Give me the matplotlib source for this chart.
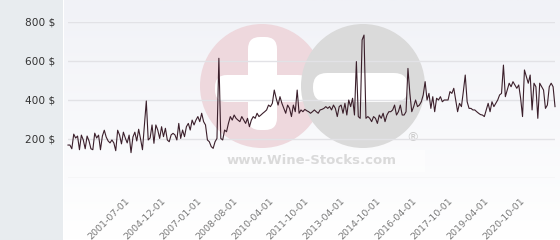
import numpy as np
import matplotlib.pyplot as plt
from matplotlib.colors import LinearSegmentedColormap
from matplotlib.patches import Circle, FancyBboxPatch, Rectangle

# price series (USD)
prices_a = [169, 169, 150, 225, 205, 215, 145, 220, 195, 150, 215, 190, 150, 145, 230, 205,
            220, 145, 215, 245, 210, 190, 180, 195, 180, 140, 245, 220, 175, 235, 205, 180,
            220, 130, 210, 235, 190, 250, 200, 145, 270]
prices_b = [395, 195, 205, 272, 178, 272, 246, 203, 263, 212, 255, 195, 186, 221, 229, 221,
            195, 280, 203, 246, 212, 263, 280, 246, 297, 272, 297, 315, 289, 332, 289, 272,
            195, 186, 161, 152, 186, 203, 614, 203, 195, 246]
prices_c = [237, 280, 315, 297, 323, 306, 297, 289, 315, 297, 280, 306, 263, 297, 315, 306,
            332, 315, 323, 332, 340, 349, 374, 366, 383, 451, 409, 374, 417, 383, 357, 332,
            374, 357, 315, 374, 340, 451, 332, 349, 340, 352, 345]
prices_d = [340, 332, 340, 349, 340, 332, 349, 352, 357, 366, 357, 366, 349, 374, 357, 315,
            366, 374, 332, 383, 323, 400, 366, 409, 323, 597, 315, 306, 708, 733, 306, 315,
            306, 289, 315, 306, 280, 323, 306, 332, 289, 323, 340]
prices_e = [340, 349, 374, 323, 340, 374, 323, 323, 340, 562, 434, 340, 366, 400, 366, 374,
            391, 426, 494, 400, 434, 357, 417, 340, 409, 400, 417, 391, 400, 400, 400, 443,
            434, 460, 400, 340, 383, 366, 443, 528, 391, 357, 357, 349]
prices_f = [349, 340, 332, 325, 323, 315, 349, 383, 340, 391, 366, 383, 400, 426, 434, 579,
            417, 451, 486, 468, 494, 477, 460, 477, 409, 315, 554, 520, 486, 528, 349, 486,
            468, 306, 486, 468, 451, 357, 374, 468, 486, 468, 366]

prices = prices_a + prices_b + prices_c + prices_d + prices_e + prices_f

tick_labels = ["2001-07-01", "2004-12-01", "2007-01-01", "2008-08-01", "2010-04-01",
               "2011-10-01", "2013-04-01", "2014-10-01", "2016-04-01", "2017-10-01",
               "2019-04-01", "2020-10-01"]
y_ticks = [200, 400, 600, 800]

W, H = 560, 240
fig = plt.figure(figsize=(W / 100, H / 100), dpi=100)

# background: grey side panel + light gradient plot panel
bg = fig.add_axes([0, 0, 1, 1], zorder=0)
bg.axis("off")
bg.add_patch(Rectangle((0, 0), 63, H, color="#e8ecef", lw=0))
grad = np.linspace(0, 1, 100)[:, None]
bg.imshow(grad, extent=(64, W, H, 0), aspect="auto",
          cmap=LinearSegmentedColormap.from_list("g", ["#f1f2f7", "#ffffff"]))
bg.set_xlim(0, W); bg.set_ylim(H, 0)

# watermark
bg.add_patch(Circle((262, 86), 62, color="#eed8dd", lw=0))
bg.add_patch(FancyBboxPatch((215, 75), 95, 27, boxstyle="round,pad=0,rounding_size=12",
                            color="white", lw=0))
bg.add_patch(FancyBboxPatch((248, 37), 29, 93, boxstyle="round,pad=0,rounding_size=12",
                            color="white", lw=0))
bg.add_patch(Circle((363, 86), 62, color="#dadada", lw=0))
bg.add_patch(FancyBboxPatch((313, 73), 95, 29, boxstyle="round,pad=0,rounding_size=14",
                            color="white", lw=0))
bg.add_patch(Rectangle((200, 150), 225, 22, color="white", alpha=0.6, lw=0))
bg.text(312, 160, "www.Wine-Stocks.com", color="#dadada", fontsize=9.5,
        fontweight="bold", ha="center", va="center")
bg.text(413, 138, "®", color="#cccccc", fontsize=9, ha="center", va="center")

# chart
ax = fig.add_axes([68 / W, (H - 178) / H, 487 / W, 156 / H], zorder=1)
ax.patch.set_alpha(0)
x = np.arange(len(prices))
ax.plot(x, prices, color="#3b1f2b", lw=0.8, clip_on=False, zorder=3)

ax.set_xlim(0, len(prices) - 1)
ax.set_ylim(0, 800)
ax.set_yticks([0] + y_ticks)
ax.set_yticklabels([""] + [f"{v} $" for v in y_ticks])
ax.grid(axis="y", color="#e2e2e6", lw=1)
ax.set_axisbelow(True)

n = len(prices) - 1
tick_px = [125 + 35.9 * k for k in range(len(tick_labels))]
ax.set_xticks([(p - 68) / 487 * n for p in tick_px])
ax.set_xticklabels(tick_labels, rotation=45, ha="right", va="top",
                   rotation_mode="anchor", fontsize=6.8, color="#7a7a7a")
ax.tick_params(axis="x", length=0, pad=13)
ax.tick_params(axis="y", length=0, pad=9, labelsize=7.6, labelcolor="#333333")
for s in ax.spines.values():
    s.set_visible(False)

fig.savefig("out.png", dpi=100)
